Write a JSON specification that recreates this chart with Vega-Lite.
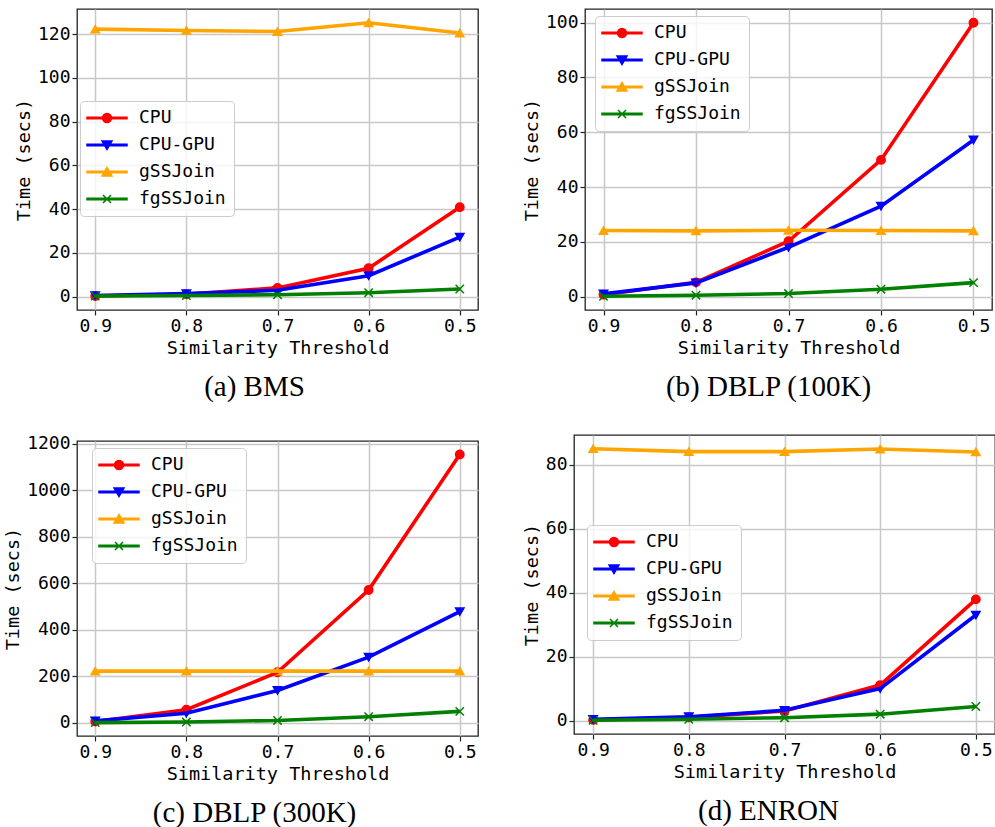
{
  "$schema": "https://vega.github.io/schema/vega-lite/v6.json",
  "background": "white",
  "padding": {"left": 3, "top": 8, "right": 0, "bottom": 0},
  "datasets": {
    "all": [
      {"Dataset": "BMS", "Method": "CPU", "Threshold": 0.9, "Time": 0.3},
      {"Dataset": "BMS", "Method": "CPU", "Threshold": 0.8, "Time": 1.1},
      {"Dataset": "BMS", "Method": "CPU", "Threshold": 0.7, "Time": 4.0},
      {"Dataset": "BMS", "Method": "CPU", "Threshold": 0.6, "Time": 13.0},
      {"Dataset": "BMS", "Method": "CPU", "Threshold": 0.5, "Time": 40.9},
      {"Dataset": "BMS", "Method": "CPU-GPU", "Threshold": 0.9, "Time": 0.5},
      {"Dataset": "BMS", "Method": "CPU-GPU", "Threshold": 0.8, "Time": 1.4},
      {"Dataset": "BMS", "Method": "CPU-GPU", "Threshold": 0.7, "Time": 2.9},
      {"Dataset": "BMS", "Method": "CPU-GPU", "Threshold": 0.6, "Time": 9.6},
      {"Dataset": "BMS", "Method": "CPU-GPU", "Threshold": 0.5, "Time": 27.2},
      {"Dataset": "BMS", "Method": "gSSJoin", "Threshold": 0.9, "Time": 122.3},
      {"Dataset": "BMS", "Method": "gSSJoin", "Threshold": 0.8, "Time": 121.7},
      {"Dataset": "BMS", "Method": "gSSJoin", "Threshold": 0.7, "Time": 121.2},
      {"Dataset": "BMS", "Method": "gSSJoin", "Threshold": 0.6, "Time": 125.2},
      {"Dataset": "BMS", "Method": "gSSJoin", "Threshold": 0.5, "Time": 120.5},
      {"Dataset": "BMS", "Method": "fgSSJoin", "Threshold": 0.9, "Time": 0.3},
      {"Dataset": "BMS", "Method": "fgSSJoin", "Threshold": 0.8, "Time": 0.5},
      {"Dataset": "BMS", "Method": "fgSSJoin", "Threshold": 0.7, "Time": 0.9},
      {"Dataset": "BMS", "Method": "fgSSJoin", "Threshold": 0.6, "Time": 1.8},
      {"Dataset": "BMS", "Method": "fgSSJoin", "Threshold": 0.5, "Time": 3.5},

      {"Dataset": "DBLP100K", "Method": "CPU", "Threshold": 0.9, "Time": 0.7},
      {"Dataset": "DBLP100K", "Method": "CPU", "Threshold": 0.8, "Time": 5.2},
      {"Dataset": "DBLP100K", "Method": "CPU", "Threshold": 0.7, "Time": 20.2},
      {"Dataset": "DBLP100K", "Method": "CPU", "Threshold": 0.6, "Time": 49.9},
      {"Dataset": "DBLP100K", "Method": "CPU", "Threshold": 0.5, "Time": 100.0},
      {"Dataset": "DBLP100K", "Method": "CPU-GPU", "Threshold": 0.9, "Time": 1.0},
      {"Dataset": "DBLP100K", "Method": "CPU-GPU", "Threshold": 0.8, "Time": 5.0},
      {"Dataset": "DBLP100K", "Method": "CPU-GPU", "Threshold": 0.7, "Time": 18.0},
      {"Dataset": "DBLP100K", "Method": "CPU-GPU", "Threshold": 0.6, "Time": 33.0},
      {"Dataset": "DBLP100K", "Method": "CPU-GPU", "Threshold": 0.5, "Time": 57.2},
      {"Dataset": "DBLP100K", "Method": "gSSJoin", "Threshold": 0.9, "Time": 24.1},
      {"Dataset": "DBLP100K", "Method": "gSSJoin", "Threshold": 0.8, "Time": 24.0},
      {"Dataset": "DBLP100K", "Method": "gSSJoin", "Threshold": 0.7, "Time": 24.2},
      {"Dataset": "DBLP100K", "Method": "gSSJoin", "Threshold": 0.6, "Time": 24.1},
      {"Dataset": "DBLP100K", "Method": "gSSJoin", "Threshold": 0.5, "Time": 24.0},
      {"Dataset": "DBLP100K", "Method": "fgSSJoin", "Threshold": 0.9, "Time": 0.1},
      {"Dataset": "DBLP100K", "Method": "fgSSJoin", "Threshold": 0.8, "Time": 0.5},
      {"Dataset": "DBLP100K", "Method": "fgSSJoin", "Threshold": 0.7, "Time": 1.1},
      {"Dataset": "DBLP100K", "Method": "fgSSJoin", "Threshold": 0.6, "Time": 2.7},
      {"Dataset": "DBLP100K", "Method": "fgSSJoin", "Threshold": 0.5, "Time": 5.1},

      {"Dataset": "DBLP300K", "Method": "CPU", "Threshold": 0.9, "Time": 5},
      {"Dataset": "DBLP300K", "Method": "CPU", "Threshold": 0.8, "Time": 56},
      {"Dataset": "DBLP300K", "Method": "CPU", "Threshold": 0.7, "Time": 217},
      {"Dataset": "DBLP300K", "Method": "CPU", "Threshold": 0.6, "Time": 571},
      {"Dataset": "DBLP300K", "Method": "CPU", "Threshold": 0.5, "Time": 1154},
      {"Dataset": "DBLP300K", "Method": "CPU-GPU", "Threshold": 0.9, "Time": 8},
      {"Dataset": "DBLP300K", "Method": "CPU-GPU", "Threshold": 0.8, "Time": 41},
      {"Dataset": "DBLP300K", "Method": "CPU-GPU", "Threshold": 0.7, "Time": 139},
      {"Dataset": "DBLP300K", "Method": "CPU-GPU", "Threshold": 0.6, "Time": 282},
      {"Dataset": "DBLP300K", "Method": "CPU-GPU", "Threshold": 0.5, "Time": 478},
      {"Dataset": "DBLP300K", "Method": "gSSJoin", "Threshold": 0.9, "Time": 222},
      {"Dataset": "DBLP300K", "Method": "gSSJoin", "Threshold": 0.8, "Time": 222},
      {"Dataset": "DBLP300K", "Method": "gSSJoin", "Threshold": 0.7, "Time": 222},
      {"Dataset": "DBLP300K", "Method": "gSSJoin", "Threshold": 0.6, "Time": 222},
      {"Dataset": "DBLP300K", "Method": "gSSJoin", "Threshold": 0.5, "Time": 222},
      {"Dataset": "DBLP300K", "Method": "fgSSJoin", "Threshold": 0.9, "Time": 0.5},
      {"Dataset": "DBLP300K", "Method": "fgSSJoin", "Threshold": 0.8, "Time": 3},
      {"Dataset": "DBLP300K", "Method": "fgSSJoin", "Threshold": 0.7, "Time": 10},
      {"Dataset": "DBLP300K", "Method": "fgSSJoin", "Threshold": 0.6, "Time": 26},
      {"Dataset": "DBLP300K", "Method": "fgSSJoin", "Threshold": 0.5, "Time": 49},

      {"Dataset": "ENRON", "Method": "CPU", "Threshold": 0.9, "Time": 0.2},
      {"Dataset": "ENRON", "Method": "CPU", "Threshold": 0.8, "Time": 1.0},
      {"Dataset": "ENRON", "Method": "CPU", "Threshold": 0.7, "Time": 3.0},
      {"Dataset": "ENRON", "Method": "CPU", "Threshold": 0.6, "Time": 11.1},
      {"Dataset": "ENRON", "Method": "CPU", "Threshold": 0.5, "Time": 37.9},
      {"Dataset": "ENRON", "Method": "CPU-GPU", "Threshold": 0.9, "Time": 0.4},
      {"Dataset": "ENRON", "Method": "CPU-GPU", "Threshold": 0.8, "Time": 1.2},
      {"Dataset": "ENRON", "Method": "CPU-GPU", "Threshold": 0.7, "Time": 3.2},
      {"Dataset": "ENRON", "Method": "CPU-GPU", "Threshold": 0.6, "Time": 10.0},
      {"Dataset": "ENRON", "Method": "CPU-GPU", "Threshold": 0.5, "Time": 33.0},
      {"Dataset": "ENRON", "Method": "gSSJoin", "Threshold": 0.9, "Time": 85.0},
      {"Dataset": "ENRON", "Method": "gSSJoin", "Threshold": 0.8, "Time": 84.1},
      {"Dataset": "ENRON", "Method": "gSSJoin", "Threshold": 0.7, "Time": 84.1},
      {"Dataset": "ENRON", "Method": "gSSJoin", "Threshold": 0.6, "Time": 84.9},
      {"Dataset": "ENRON", "Method": "gSSJoin", "Threshold": 0.5, "Time": 84.0},
      {"Dataset": "ENRON", "Method": "fgSSJoin", "Threshold": 0.9, "Time": 0.1},
      {"Dataset": "ENRON", "Method": "fgSSJoin", "Threshold": 0.8, "Time": 0.4},
      {"Dataset": "ENRON", "Method": "fgSSJoin", "Threshold": 0.7, "Time": 0.9},
      {"Dataset": "ENRON", "Method": "fgSSJoin", "Threshold": 0.6, "Time": 2.0},
      {"Dataset": "ENRON", "Method": "fgSSJoin", "Threshold": 0.5, "Time": 4.4}
    ]
  },
  "config": {
    "view": {"stroke": "#222222", "strokeWidth": 1.3},
    "axis": {
      "labelFont": "DejaVu Sans Mono", "labelFontSize": 18, "labelColor": "#000000",
      "titleFont": "DejaVu Sans Mono", "titleFontSize": 18.5, "titleFontWeight": "normal", "titleColor": "#000000",
      "domain": false, "tickColor": "#222222", "tickSize": 5, "tickWidth": 1.2,
      "gridColor": "#c8c8c8", "gridWidth": 1.5, "labelPadding": 2, "titlePadding": 3
    },
    "axisY": {"labelPadding": 2, "titlePadding": 4},
    "legend": {
      "orient": "none",
      "labelFont": "DejaVu Sans Mono", "labelFontSize": 18, "labelColor": "#000000",
      "symbolSize": 100, "symbolStrokeWidth": 1.5, "symbolOffset": 10, "labelOffset": 23,
      "rowPadding": 9, "padding": 8, "fillColor": "rgba(255,255,255,0.8)", "strokeColor": "#cccccc", "cornerRadius": 4
    },
    "title": {"font": "Liberation Serif", "fontSize": 29, "fontWeight": "normal", "color": "#000000"}
  },
  "columns": 2,
  "align": "none",
  "spacing": {"row": 31, "column": 42},
  "resolve": {"scale": {"color": "independent", "stroke": "independent", "shape": "independent"}, "legend": {"color": "independent", "stroke": "independent", "shape": "independent"}},
  "concat": [
    {
      "width": 401, "height": 301,
      "data": {"name": "all"},
      "transform": [{"filter": "datum.Dataset === 'BMS'"}],
      "title": {"text": "(a) BMS", "orient": "bottom", "anchor": "middle", "offset": 16, "dx": -23},
      "encoding": {
        "x": {"field": "Threshold", "type": "quantitative", "scale": {"domain": [0.48, 0.92], "reverse": true, "nice": false, "zero": false}, "axis": {"values": [0.9, 0.8, 0.7, 0.6, 0.5], "format": ".1f", "title": "Similarity Threshold"}},
        "y": {"field": "Time", "type": "quantitative", "scale": {"domain": [-6.1, 131.5], "nice": false, "zero": false}, "axis": {"values": [0, 20, 40, 60, 80, 100, 120], "format": "d", "title": "Time (secs)"}}
      },
      "layer": [
        {"mark": {"type": "point", "filled": true, "opacity": 1, "strokeWidth": 1.5, "size": 70},
         "encoding": {
           "color": {"field": "Method", "type": "nominal", "scale": {"domain": ["CPU", "CPU-GPU", "gSSJoin", "fgSSJoin"], "range": ["#ff0000", "#0000ff", "#ffa500", "#008000"]},
             "legend": {"title": null, "legendX": 3, "legendY": 92, "encoding": {"symbols": {
               "shape": {"value": {"expr": "datum.value === 'CPU' ? 'M-4,-0.15H4V0.15H-4Z M-0.9,0A0.9,0.9 0 1,1 0.9,0A0.9,0.9 0 1,1 -0.9,0Z' : datum.value === 'CPU-GPU' ? 'M-4,-0.15H4V0.15H-4Z M-1,-0.8L1,-0.8L0,0.9Z' : datum.value === 'gSSJoin' ? 'M-4,-0.15H4V0.15H-4Z M1,0.8L-1,0.8L0,-0.9Z' : 'M-4,-0.15H4V0.15H-4Z M-0.8,-0.8L0.8,0.8 M-0.8,0.8L0.8,-0.8'"}},
               "strokeWidth": {"value": 1.5},
               "opacity": {"value": 1}}}}},
           "stroke": {"field": "Method", "type": "nominal", "scale": {"domain": ["CPU", "CPU-GPU", "gSSJoin", "fgSSJoin"], "range": ["#ff0000", "#0000ff", "#ffa500", "#008000"]}},
           "shape": {"field": "Method", "type": "nominal", "scale": {"domain": ["CPU", "CPU-GPU", "gSSJoin", "fgSSJoin", "none"], "range": ["circle", "triangle-down", "triangle-up", "M-1,-1L1,1M-1,1L1,-1", "circle"]}, "legend": null}
         }},
        {"mark": {"type": "line", "strokeWidth": 3.6}, "encoding": {"stroke": {"field": "Method", "type": "nominal", "scale": {"domain": ["CPU", "CPU-GPU", "gSSJoin", "fgSSJoin"], "range": ["#ff0000", "#0000ff", "#ffa500", "#008000"]}}}}
      ]
    },
    {
      "width": 407, "height": 301,
      "data": {"name": "all"},
      "transform": [{"filter": "datum.Dataset === 'DBLP100K'"}],
      "title": {"text": "(b) DBLP (100K)", "orient": "bottom", "anchor": "middle", "offset": 16, "dx": -20},
      "encoding": {
        "x": {"field": "Threshold", "type": "quantitative", "scale": {"domain": [0.48, 0.92], "reverse": true, "nice": false, "zero": false}, "axis": {"values": [0.9, 0.8, 0.7, 0.6, 0.5], "format": ".1f", "title": "Similarity Threshold"}},
        "y": {"field": "Time", "type": "quantitative", "scale": {"domain": [-4.9, 105], "nice": false, "zero": false}, "axis": {"values": [0, 20, 40, 60, 80, 100], "format": "d", "title": "Time (secs)"}}
      },
      "layer": [
        {"mark": {"type": "point", "filled": true, "opacity": 1, "strokeWidth": 1.5, "size": 70},
         "encoding": {
           "color": {"field": "Method", "type": "nominal", "scale": {"domain": ["CPU", "CPU-GPU", "gSSJoin", "fgSSJoin"], "range": ["#ff0000", "#0000ff", "#ffa500", "#008000"]},
             "legend": {"title": null, "legendX": 10, "legendY": 7, "encoding": {"symbols": {
               "shape": {"value": {"expr": "datum.value === 'CPU' ? 'M-4,-0.15H4V0.15H-4Z M-0.9,0A0.9,0.9 0 1,1 0.9,0A0.9,0.9 0 1,1 -0.9,0Z' : datum.value === 'CPU-GPU' ? 'M-4,-0.15H4V0.15H-4Z M-1,-0.8L1,-0.8L0,0.9Z' : datum.value === 'gSSJoin' ? 'M-4,-0.15H4V0.15H-4Z M1,0.8L-1,0.8L0,-0.9Z' : 'M-4,-0.15H4V0.15H-4Z M-0.8,-0.8L0.8,0.8 M-0.8,0.8L0.8,-0.8'"}},
               "strokeWidth": {"value": 1.5},
               "opacity": {"value": 1}}}}},
           "stroke": {"field": "Method", "type": "nominal", "scale": {"domain": ["CPU", "CPU-GPU", "gSSJoin", "fgSSJoin"], "range": ["#ff0000", "#0000ff", "#ffa500", "#008000"]}},
           "shape": {"field": "Method", "type": "nominal", "scale": {"domain": ["CPU", "CPU-GPU", "gSSJoin", "fgSSJoin", "none"], "range": ["circle", "triangle-down", "triangle-up", "M-1,-1L1,1M-1,1L1,-1", "circle"]}, "legend": null}
         }},
        {"mark": {"type": "line", "strokeWidth": 3.6}, "encoding": {"stroke": {"field": "Method", "type": "nominal", "scale": {"domain": ["CPU", "CPU-GPU", "gSSJoin", "fgSSJoin"], "range": ["#ff0000", "#0000ff", "#ffa500", "#008000"]}}}}
      ]
    },
    {
      "width": 401, "height": 295,
      "data": {"name": "all"},
      "transform": [{"filter": "datum.Dataset === 'DBLP300K'"}],
      "title": {"text": "(c) DBLP (300K)", "orient": "bottom", "anchor": "middle", "offset": 16, "dx": -23},
      "encoding": {
        "x": {"field": "Threshold", "type": "quantitative", "scale": {"domain": [0.48, 0.92], "reverse": true, "nice": false, "zero": false}, "axis": {"values": [0.9, 0.8, 0.7, 0.6, 0.5], "format": ".1f", "title": "Similarity Threshold"}},
        "y": {"field": "Time", "type": "quantitative", "scale": {"domain": [-57, 1212], "nice": false, "zero": false}, "axis": {"values": [0, 200, 400, 600, 800, 1000, 1200], "format": "d", "title": "Time (secs)"}}
      },
      "layer": [
        {"mark": {"type": "point", "filled": true, "opacity": 1, "strokeWidth": 1.5, "size": 70},
         "encoding": {
           "color": {"field": "Method", "type": "nominal", "scale": {"domain": ["CPU", "CPU-GPU", "gSSJoin", "fgSSJoin"], "range": ["#ff0000", "#0000ff", "#ffa500", "#008000"]},
             "legend": {"title": null, "legendX": 15, "legendY": 7, "encoding": {"symbols": {
               "shape": {"value": {"expr": "datum.value === 'CPU' ? 'M-4,-0.15H4V0.15H-4Z M-0.9,0A0.9,0.9 0 1,1 0.9,0A0.9,0.9 0 1,1 -0.9,0Z' : datum.value === 'CPU-GPU' ? 'M-4,-0.15H4V0.15H-4Z M-1,-0.8L1,-0.8L0,0.9Z' : datum.value === 'gSSJoin' ? 'M-4,-0.15H4V0.15H-4Z M1,0.8L-1,0.8L0,-0.9Z' : 'M-4,-0.15H4V0.15H-4Z M-0.8,-0.8L0.8,0.8 M-0.8,0.8L0.8,-0.8'"}},
               "strokeWidth": {"value": 1.5},
               "opacity": {"value": 1}}}}},
           "stroke": {"field": "Method", "type": "nominal", "scale": {"domain": ["CPU", "CPU-GPU", "gSSJoin", "fgSSJoin"], "range": ["#ff0000", "#0000ff", "#ffa500", "#008000"]}},
           "shape": {"field": "Method", "type": "nominal", "scale": {"domain": ["CPU", "CPU-GPU", "gSSJoin", "fgSSJoin", "none"], "range": ["circle", "triangle-down", "triangle-up", "M-1,-1L1,1M-1,1L1,-1", "circle"]}, "legend": null}
         }},
        {"mark": {"type": "line", "strokeWidth": 3.6}, "encoding": {"stroke": {"field": "Method", "type": "nominal", "scale": {"domain": ["CPU", "CPU-GPU", "gSSJoin", "fgSSJoin"], "range": ["#ff0000", "#0000ff", "#ffa500", "#008000"]}}}}
      ]
    },
    {
      "width": 421, "height": 299,
      "data": {"name": "all"},
      "transform": [{"filter": "datum.Dataset === 'ENRON'"}],
      "title": {"text": "(d) ENRON", "orient": "bottom", "anchor": "middle", "offset": 16, "dx": -16},
      "encoding": {
        "x": {"field": "Threshold", "type": "quantitative", "scale": {"domain": [0.48, 0.92], "reverse": true, "nice": false, "zero": false}, "axis": {"values": [0.9, 0.8, 0.7, 0.6, 0.5], "format": ".1f", "title": "Similarity Threshold"}},
        "y": {"field": "Time", "type": "quantitative", "scale": {"domain": [-4.2, 89.3], "nice": false, "zero": false}, "axis": {"values": [0, 20, 40, 60, 80], "format": "d", "title": "Time (secs)"}}
      },
      "layer": [
        {"mark": {"type": "point", "filled": true, "opacity": 1, "strokeWidth": 1.5, "size": 70},
         "encoding": {
           "color": {"field": "Method", "type": "nominal", "scale": {"domain": ["CPU", "CPU-GPU", "gSSJoin", "fgSSJoin"], "range": ["#ff0000", "#0000ff", "#ffa500", "#008000"]},
             "legend": {"title": null, "legendX": 13, "legendY": 90, "encoding": {"symbols": {
               "shape": {"value": {"expr": "datum.value === 'CPU' ? 'M-4,-0.15H4V0.15H-4Z M-0.9,0A0.9,0.9 0 1,1 0.9,0A0.9,0.9 0 1,1 -0.9,0Z' : datum.value === 'CPU-GPU' ? 'M-4,-0.15H4V0.15H-4Z M-1,-0.8L1,-0.8L0,0.9Z' : datum.value === 'gSSJoin' ? 'M-4,-0.15H4V0.15H-4Z M1,0.8L-1,0.8L0,-0.9Z' : 'M-4,-0.15H4V0.15H-4Z M-0.8,-0.8L0.8,0.8 M-0.8,0.8L0.8,-0.8'"}},
               "strokeWidth": {"value": 1.5},
               "opacity": {"value": 1}}}}},
           "stroke": {"field": "Method", "type": "nominal", "scale": {"domain": ["CPU", "CPU-GPU", "gSSJoin", "fgSSJoin"], "range": ["#ff0000", "#0000ff", "#ffa500", "#008000"]}},
           "shape": {"field": "Method", "type": "nominal", "scale": {"domain": ["CPU", "CPU-GPU", "gSSJoin", "fgSSJoin", "none"], "range": ["circle", "triangle-down", "triangle-up", "M-1,-1L1,1M-1,1L1,-1", "circle"]}, "legend": null}
         }},
        {"mark": {"type": "line", "strokeWidth": 3.6}, "encoding": {"stroke": {"field": "Method", "type": "nominal", "scale": {"domain": ["CPU", "CPU-GPU", "gSSJoin", "fgSSJoin"], "range": ["#ff0000", "#0000ff", "#ffa500", "#008000"]}}}}
      ]
    }
  ]
}
